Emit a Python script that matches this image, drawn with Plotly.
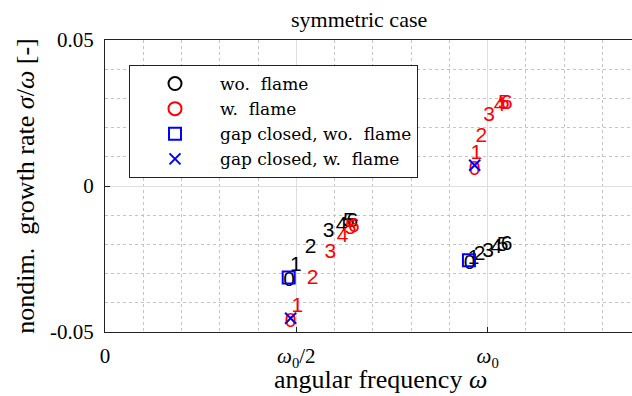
import plotly.graph_objects as go

# ---------------- data (omega in units of omega_0) ----------------
labels = ["0", "1", "2", "3", "4", "5", "6"]

# without flame, mode near omega_0/2
wo_low_x = [0.481, 0.4986, 0.537, 0.5845, 0.618, 0.637, 0.646]
wo_low_y = [-0.0323, -0.0272, -0.0210, -0.0155, -0.0135, -0.0124, -0.0124]
# without flame, mode near omega_0
wo_high_x = [0.953, 0.9633, 0.979, 1.0007, 1.0227, 1.039, 1.0496]
wo_high_y = [-0.0266, -0.0248, -0.0237, -0.0226, -0.0211, -0.0203, -0.0200]

# with flame, mode near omega_0/2
w_low_x = [0.485, 0.5027, 0.5427, 0.589, 0.621, 0.642, 0.650]
w_low_y = [-0.0466, -0.0415, -0.0316, -0.0229, -0.0175, -0.0148, -0.0141]
# with flame, mode near omega_0
w_high_x = [0.966, 0.9705, 0.9835, 1.0034, 1.031, 1.042, 1.050]
w_high_y = [0.0056, 0.0109, 0.0170, 0.0239, 0.0276, 0.0282, 0.0283]

# gap closed
gap_wo_x = [0.480, 0.951]
gap_wo_y = [-0.0313, -0.0254]
gap_w_x = [0.485, 0.966]
gap_w_y = [-0.0453, 0.0071]

legend_names = ["wo.  flame", "w.  flame", "gap closed, wo.  flame", "gap closed, w.  flame"]

x_tickvals = [0, 0.5, 1.0]
x_ticktext = ["0", "<i>ω</i><sub>0</sub>/2", "<i>ω</i><sub>0</sub>"]
y_tickvals = [-0.05, 0, 0.05]
y_ticktext = ["-0.05", "0", "0.05"]

SERIF = "Liberation Serif"
LEGSERIF = "DejaVu Serif"
SANS = "Liberation Sans"

fig = go.Figure()

# numbered labels (text marks)
for xs, ys, col in [(wo_low_x, wo_low_y, "black"), (wo_high_x, wo_high_y, "black"),
                    (w_low_x, w_low_y, "red"), (w_high_x, w_high_y, "red")]:
    fig.add_trace(go.Scatter(x=xs, y=ys, mode="text", text=labels,
                             textposition="middle center",
                             textfont=dict(family=SANS, size=21, color=col),
                             showlegend=False, hoverinfo="skip", cliponaxis=False))

# legend entries for the numbered series
fig.add_trace(go.Scatter(x=[None], y=[None], mode="markers", name=legend_names[0],
                         marker=dict(symbol="circle-open", size=13, color="black",
                                     line=dict(width=2, color="black"))))
fig.add_trace(go.Scatter(x=[None], y=[None], mode="markers", name=legend_names[1],
                         marker=dict(symbol="circle-open", size=13, color="red",
                                     line=dict(width=2, color="red"))))

# gap closed markers
fig.add_trace(go.Scatter(x=gap_wo_x, y=gap_wo_y, mode="markers", name=legend_names[2],
                         marker=dict(symbol="square-open", size=12, color="blue",
                                     line=dict(width=2, color="blue")),
                         cliponaxis=False))
fig.add_trace(go.Scatter(x=gap_w_x, y=gap_w_y, mode="markers", name=legend_names[3],
                         marker=dict(symbol="x-thin-open", size=11, color="blue",
                                     line=dict(width=2, color="blue")),
                         cliponaxis=False))

W, H = 632, 396
L, R, T, B = 105, 0, 40, 64
PW, PH = W - L, H - T - B
x_max = PW / 382.7


def px2paper(px, py):
    return (px - L) / PW, (H - B - py) / PH


lx, ly = px2paper(129, 65)
tx, ty = px2paper(359, 19)
xtx, xty = px2paper(380, 379)

fig.update_layout(
    width=W, height=H,
    margin=dict(l=L, r=R, t=T, b=B),
    paper_bgcolor="white", plot_bgcolor="white",
    font=dict(family=SERIF, size=21, color="black"),
    showlegend=True,
    legend=dict(x=lx, y=ly, xanchor="left", yanchor="top",
                bgcolor="white", bordercolor="#222222", borderwidth=1,
                font=dict(family=LEGSERIF, size=17, color="black"),
                itemwidth=80, tracegroupgap=0),
    annotations=[
        dict(text="symmetric case", x=tx, y=ty, xref="paper", yref="paper",
             xanchor="center", yanchor="middle", showarrow=False,
             font=dict(family=SERIF, size=22, color="black")),
        dict(text="angular frequency <i>ω</i>", x=xtx, y=xty, xref="paper", yref="paper",
             xanchor="center", yanchor="middle", showarrow=False,
             font=dict(family=SERIF, size=26, color="black")),
    ],
)

fig.update_xaxes(
    range=[0, x_max], tickvals=x_tickvals, ticktext=x_ticktext,
    showline=True, linecolor="#222222", linewidth=1, mirror=True,
    ticks="inside", ticklen=5, tickcolor="#222222",
    showgrid=True, gridcolor="#dedede", gridwidth=1, zeroline=False,
    tickfont=dict(family=SERIF, size=21), ticklabelstandoff=5,
    minor=dict(dtick=0.1, tick0=0, showgrid=True, gridcolor="#c4c4c4", griddash="dot", gridwidth=1),
)
fig.update_yaxes(
    range=[-0.05, 0.05], tickvals=y_tickvals, ticktext=y_ticktext,
    showline=True, linecolor="#222222", linewidth=1, mirror=False,
    ticks="inside", ticklen=5, tickcolor="#222222",
    showgrid=True, gridcolor="#dedede", gridwidth=1, zeroline=False,
    tickfont=dict(family=SERIF, size=21), ticklabelstandoff=6,
    minor=dict(dtick=0.01, tick0=0, showgrid=True, gridcolor="#c4c4c4", griddash="dot", gridwidth=1),
    title=dict(text="nondim.  growth rate <i>σ</i>/<i>ω</i> [-]", font=dict(family=SERIF, size=26), standoff=7),
)

fig.write_html("out.html")
